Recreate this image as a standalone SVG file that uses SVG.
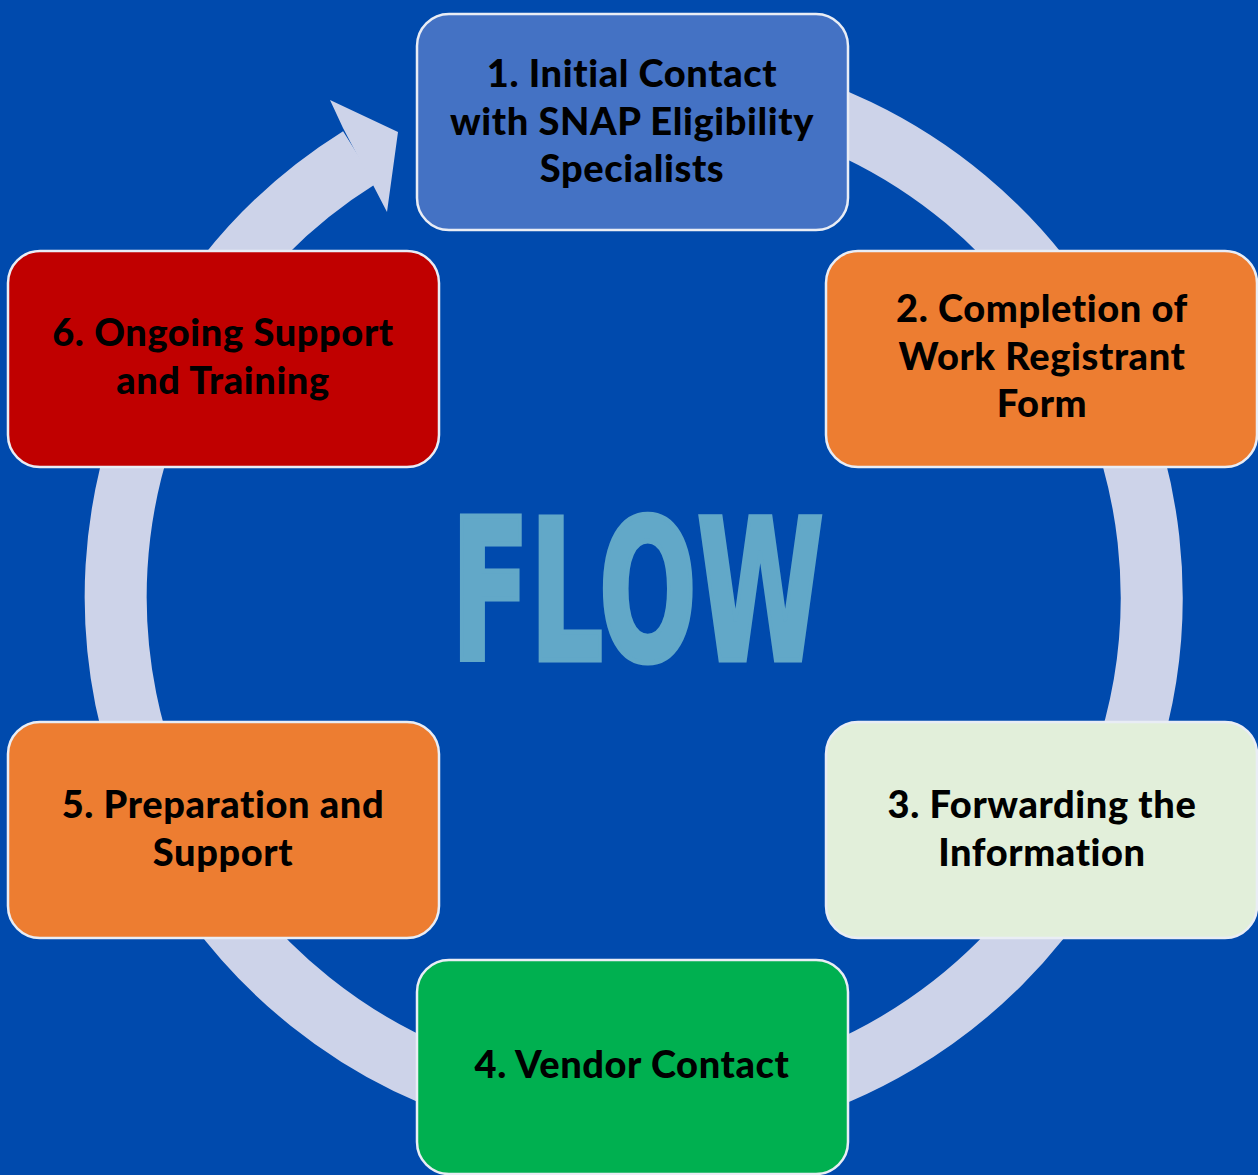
<svg xmlns="http://www.w3.org/2000/svg" width="1258" height="1175" viewBox="0 0 1258 1175">
<style>
.node rect{stroke:#E9EDF5;stroke-width:2.5}
.lbl{font-family:Lato,"Open Sans","Liberation Sans",sans-serif;font-weight:900;font-size:38px;letter-spacing:0.6px;fill:#000;text-anchor:middle}
.ring{fill:none;stroke:#CDD3E9;stroke-width:62}
</style>
<rect x="0" y="0" width="1258" height="1175" fill="#004AAD"/>
<g id="connectors">
<path class="ring" d="M633 79 A518 518 0 1 1 359.5 157.5"/>
<polygon points="343,128 330,100 398,132 387,212 373,185" fill="#CDD3E9"/>
</g>
<text x="451" y="660" textLength="373" lengthAdjust="spacingAndGlyphs" font-family="'DejaVu Sans Condensed','DejaVu Sans',sans-serif" font-weight="700" font-size="197" fill="#62A8C8" stroke="#62A8C8" stroke-width="5" stroke-linejoin="miter">FLOW</text>
<g id="node1" class="node">
<rect x="417" y="14" width="431" height="216" rx="32" fill="#4472C4"/>
<text class="lbl"><tspan x="632" y="87">1. Initial Contact</tspan><tspan x="632" y="135">with SNAP Eligibility</tspan><tspan x="632" y="182">Specialists</tspan></text>
</g>
<g id="node2" class="node">
<rect x="826" y="251" width="431" height="216" rx="32" fill="#ED7D31"/>
<text class="lbl"><tspan x="1042" y="322">2. Completion of</tspan><tspan x="1042" y="370">Work Registrant</tspan><tspan x="1042" y="417">Form</tspan></text>
</g>
<g id="node3" class="node">
<rect x="826" y="722" width="431" height="216" rx="32" fill="#E2EFDA"/>
<text class="lbl"><tspan x="1042" y="818">3. Forwarding the</tspan><tspan x="1042" y="866">Information</tspan></text>
</g>
<g id="node4" class="node">
<rect x="417" y="960" width="431" height="214" rx="32" fill="#00B050"/>
<text class="lbl"><tspan x="632" y="1078">4. Vendor Contact</tspan></text>
</g>
<g id="node5" class="node">
<rect x="8" y="722" width="431" height="216" rx="32" fill="#ED7D31"/>
<text class="lbl"><tspan x="223" y="818">5. Preparation and</tspan><tspan x="223" y="866">Support</tspan></text>
</g>
<g id="node6" class="node">
<rect x="8" y="251" width="431" height="216" rx="32" fill="#C00000"/>
<text class="lbl"><tspan x="223" y="346">6. Ongoing Support</tspan><tspan x="223" y="394">and Training</tspan></text>
</g>
</svg>
